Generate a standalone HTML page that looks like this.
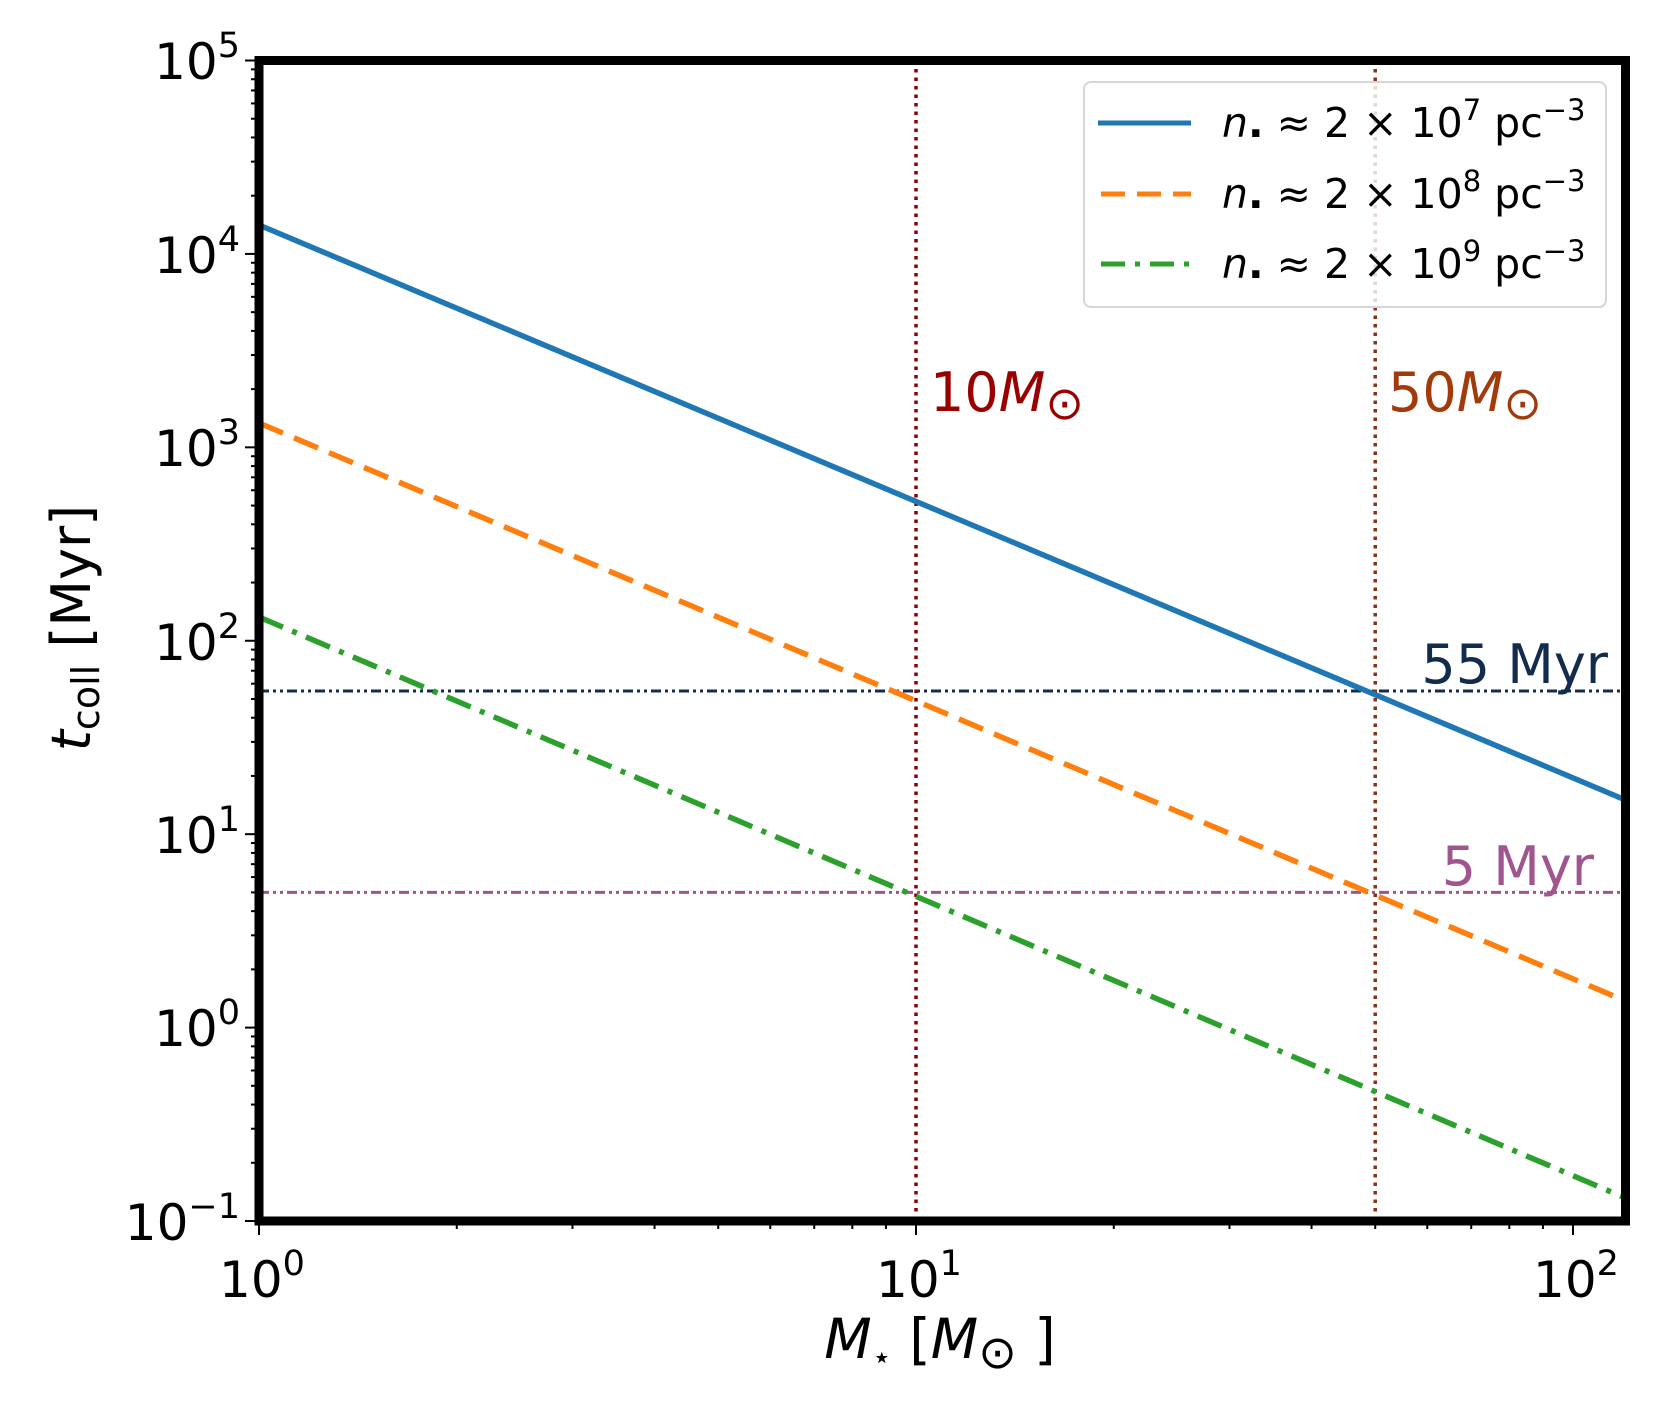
<!DOCTYPE html>
<html><head><meta charset="utf-8"><style>
html,body{margin:0;padding:0;background:#fff}
svg{display:block;font-family:"DejaVu Sans",sans-serif}
</style></head><body>
<svg id="s" width="1661" height="1423" viewBox="0 0 1661 1423" xmlns="http://www.w3.org/2000/svg">
<rect width="1661" height="1423" fill="#fff"/>
<g id="ticks" stroke="#000" stroke-width="2"></g>
<g id="series" fill="none"></g>
<!-- legend -->
<rect x="1084" y="82" width="522" height="225" rx="7" fill="#fff" fill-opacity="0.8" stroke="#d6d6d6" stroke-width="2"/>
<line x1="1098" y1="123" x2="1191" y2="123" stroke="#1f77b4" stroke-width="5"/>
<line x1="1101" y1="194" x2="1191" y2="194" stroke="#ff7f0e" stroke-width="5" stroke-dasharray="24 12"/>
<line x1="1101" y1="264" x2="1191" y2="264" stroke="#2ca02c" stroke-width="5" stroke-dasharray="24 10 5 10"/>
<g font-size="41" fill="#000">
<text x="1222" y="137"><tspan font-style="italic">n</tspan><tspan font-weight="bold">.</tspan><tspan> ≈ 2 × 10</tspan><tspan font-size="29" dy="-17">7</tspan><tspan dy="17"> pc</tspan><tspan font-size="29" dy="-17">−3</tspan></text>
<text x="1222" y="208"><tspan font-style="italic">n</tspan><tspan font-weight="bold">.</tspan><tspan> ≈ 2 × 10</tspan><tspan font-size="29" dy="-17">8</tspan><tspan dy="17"> pc</tspan><tspan font-size="29" dy="-17">−3</tspan></text>
<text x="1222" y="278"><tspan font-style="italic">n</tspan><tspan font-weight="bold">.</tspan><tspan> ≈ 2 × 10</tspan><tspan font-size="29" dy="-17">9</tspan><tspan dy="17"> pc</tspan><tspan font-size="29" dy="-17">−3</tspan></text>
</g>
<!-- annotations -->
<text x="930" y="411" font-size="54" fill="#990000">10<tspan font-style="italic">M</tspan><tspan font-size="46" dy="8">⊙</tspan></text>
<text x="1388" y="411" font-size="54" fill="#a23a0c">50<tspan font-style="italic">M</tspan><tspan font-size="46" dy="8">⊙</tspan></text>
<text x="1608" y="683" font-size="54" fill="#132c4d" text-anchor="end">55 Myr</text>
<text x="1594" y="885" font-size="54" fill="#a0558f" text-anchor="end">5 Myr</text>
<!-- axes frame -->
<rect x="259" y="60.5" width="1366.5" height="1160.5" fill="none" stroke="#000" stroke-width="9"/>
<!-- tick labels -->
<g font-size="50" fill="#000" text-anchor="end">
<text x="240" y="79">10<tspan font-size="35" dy="-22">5</tspan></text>
<text x="240" y="273">10<tspan font-size="35" dy="-22">4</tspan></text>
<text x="240" y="466">10<tspan font-size="35" dy="-22">3</tspan></text>
<text x="240" y="660">10<tspan font-size="35" dy="-22">2</tspan></text>
<text x="240" y="853">10<tspan font-size="35" dy="-22">1</tspan></text>
<text x="240" y="1046">10<tspan font-size="35" dy="-22">0</tspan></text>
<text x="240" y="1240">10<tspan font-size="35" dy="-22">−1</tspan></text>
</g>
<g font-size="50" fill="#000" text-anchor="middle">
<text x="262" y="1297">10<tspan font-size="35" dy="-22">0</tspan></text>
<text x="919" y="1297">10<tspan font-size="35" dy="-22">1</tspan></text>
<text x="1576" y="1297">10<tspan font-size="35" dy="-22">2</tspan></text>
</g>
<text x="940" y="1358" font-size="55" text-anchor="middle"><tspan font-style="italic">M</tspan><tspan font-size="32" dy="10">⋆</tspan><tspan dy="-10"> [</tspan><tspan font-style="italic">M</tspan><tspan font-size="46" dy="10">⊙</tspan><tspan dy="-10"> ]</tspan></text>
<text transform="translate(90,628) rotate(-90)" font-size="54" text-anchor="middle"><tspan font-style="italic">t</tspan><tspan font-size="38" dy="9">coll</tspan><tspan dy="-9"> [Myr]</tspan></text>
</svg>
<script>
var L=259,R=1625.5,T=60.5,B=1221,DX=657,DY=193.42;
function X(m){return L+Math.log10(m)*DX}
function Y(t){return T+(5-Math.log10(t))*DY}
var NS="http://www.w3.org/2000/svg";
function el(p,tag,a){var e=document.createElementNS(NS,tag);for(var k in a)e.setAttribute(k,a[k]);p.appendChild(e);return e}
var tk=document.getElementById('ticks');
for(var d=0;d<3;d++)for(var i=1;i<10;i++){var m=i*Math.pow(10,d);var x=X(m);if(x>R)continue;el(tk,'line',{x1:x,y1:B,x2:x,y2:B+(i==1?14:8)})}
for(var d=-1;d<5;d++)for(var i=1;i<10;i++){var t=i*Math.pow(10,d);var y=Y(t);if(y<T)continue;el(tk,'line',{x1:L,y1:y,x2:L-(i==1?14:8),y2:y})}
el(tk,'line',{x1:L,y1:T,x2:L-14,y2:T});
var s=document.getElementById('series');
el(s,'line',{x1:L,y1:Y(55),x2:R,y2:Y(55),stroke:'#132c4d','stroke-width':3,'stroke-dasharray':'10 4 3 4 3 4'});
el(s,'line',{x1:L,y1:Y(5),x2:R,y2:Y(5),stroke:'#a0558f','stroke-width':3,'stroke-dasharray':'10 4 3 4 3 4'});
el(s,'line',{x1:X(10),y1:T,x2:X(10),y2:B,stroke:'#8b0000','stroke-width':3.5,'stroke-dasharray':'3.5 5'});
el(s,'line',{x1:X(50),y1:T,x2:X(50),y2:B,stroke:'#8b3214','stroke-width':3.5,'stroke-dasharray':'3.5 5'});
function ln(y1,y2,c,da){el(s,'line',{x1:L,y1:y1,x2:R,y2:y2,stroke:c,'stroke-width':5.5,'stroke-dasharray':da||'none'})}
ln(225,800,'#1f77b4');ln(423,1001,'#ff7f0e','26 12');ln(617,1198,'#2ca02c','26 10 5 10');
</script>
</body></html>
